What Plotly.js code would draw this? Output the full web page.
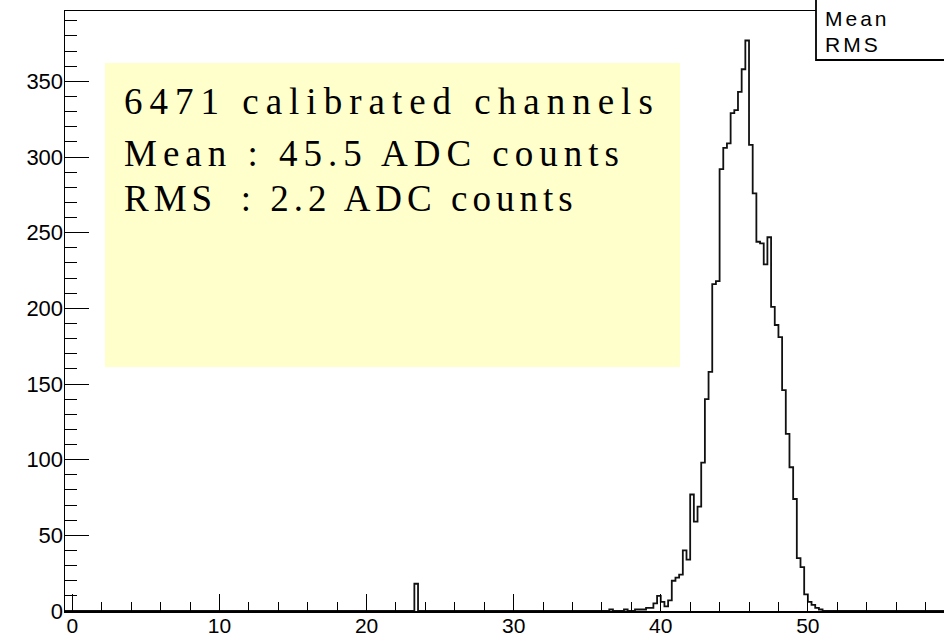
<!DOCTYPE html>
<html>
<head>
<meta charset="utf-8">
<script src="https://cdn.plot.ly/plotly-3.0.1.min.js"></script>
<style>
html,body{margin:0;padding:0;background:#ffffff;}
#chart{width:944px;height:641px;}
</style>
</head>
<body>
<div id="chart"></div>
<script>
// ---------------- data ----------------
const binWidth = 0.25;            // ADC counts per bin
const histMin = -0.5;
const histMax = 64.0;
const binLowEdges = [
  23.25,
  36.5, 36.75, 37.0, 37.25, 37.5, 37.75, 38.0, 38.25, 38.5, 38.75,
  39.0, 39.25, 39.5, 39.75, 40.0, 40.25, 40.5, 40.75, 41.0, 41.25,
  41.5, 41.75, 42.0, 42.25, 42.5, 42.75, 43.0, 43.25, 43.5, 43.75,
  44.0, 44.25, 44.5, 44.75, 45.0, 45.25, 45.5, 45.75, 46.0, 46.25,
  46.5, 46.75, 47.0, 47.25, 47.5, 47.75, 48.0, 48.25, 48.5, 48.75,
  49.0, 49.25, 49.5, 49.75, 50.0, 50.25, 50.5, 50.75
];
const binCounts = [
  18,
  1, 0, 0, 0, 1, 0, 0, 1, 1, 1,
  2, 2, 5, 10, 6, 3, 7, 20, 22, 24,
  40, 34, 77, 59, 69, 98, 140, 158, 216, 218,
  292, 306, 309, 329, 331, 343, 358, 377, 308, 276,
  244, 243, 229, 247, 201, 189, 181, 146, 117, 95,
  74, 35, 29, 11, 6, 4, 2, 1
];
const xTickValues = [0, 10, 20, 30, 40, 50];
const yTickValues = [0, 50, 100, 150, 200, 250, 300, 350];
const infoLines = [
  "6471 calibrated channels",
  "Mean : 45.5 ADC counts",
  "RMS&#8194;: 2.2 ADC counts"
];
const statsLabels = ["Mean", "RMS"];

// ---------------- build step outline ----------------
const nBins = Math.round((histMax - histMin) / binWidth);
const lookup = {};
binLowEdges.forEach((e, i) => { lookup[Math.round((e - histMin) / binWidth)] = binCounts[i]; });
const stepX = [], stepY = [];
for (let k = 0; k < nBins; k++) {
  stepX.push(histMin + k * binWidth);
  stepY.push(lookup[k] || 0);
}
stepX.push(histMax); stepY.push(0);

// ---------------- layout helpers ----------------
const L = 65, T = 11, W = 944 - 65, H = 600;
const px = x => (x - L) / W;
const py = y => (T + H - y) / H;

const trace = {
  type: 'scatter', mode: 'lines',
  x: stepX, y: stepY,
  line: {shape: 'hv', color: '#111111', width: 1.8},
  hoverinfo: 'skip', showlegend: false
};

const annotations = [];
const lineY = [101, 154, 198];
const lineSpacing = ['7px', '6px', '5px'];
infoLines.forEach((t, i) => annotations.push({
  xref: 'paper', yref: 'paper', x: px(122), y: py(lineY[i]),
  xanchor: 'left', yanchor: 'middle', align: 'left', showarrow: false,
  text: t, font: {family: 'Liberation Serif, Times New Roman, serif', size: 37, color: '#000000'}
}));
const statY = [19, 44];
statsLabels.forEach((t, i) => annotations.push({
  xref: 'paper', yref: 'paper', x: px(823), y: py(statY[i]),
  xanchor: 'left', yanchor: 'middle', align: 'left', showarrow: false,
  text: t, font: {family: 'Liberation Sans, Arial, sans-serif', size: 21, color: '#000000'}
}));

const layout = {
  width: 944, height: 641,
  margin: {l: L, r: 0, t: T, b: 641 - T - H, pad: 0},
  paper_bgcolor: '#ffffff', plot_bgcolor: '#ffffff',
  showlegend: false,
  xaxis: {
    range: [histMin, histMin + W / 14.71],
    tickvals: xTickValues, ticktext: xTickValues.map(String),
    ticks: 'inside', ticklen: 17, tickwidth: 1, tickcolor: '#000000',
    minor: {ticks: 'inside', ticklen: 9, dtick: 2, tick0: 0, tickwidth: 1, tickcolor: '#000000', showgrid: false},
    showline: true, linecolor: '#000000', linewidth: 1.5, mirror: true,
    showgrid: false, zeroline: false,
    ticklabelstandoff: -5,
    tickfont: {family: 'Liberation Sans, Arial, sans-serif', size: 21, color: '#000000'}
  },
  yaxis: {
    range: [0, 396.5],
    tickvals: yTickValues, ticktext: yTickValues.map(String),
    ticks: 'inside', ticklen: 24, tickwidth: 1, tickcolor: '#000000',
    minor: {ticks: 'inside', ticklen: 12, dtick: 10, tick0: 0, tickwidth: 1, tickcolor: '#000000', showgrid: false},
    showline: true, linecolor: '#000000', linewidth: 1.5, mirror: false,
    showgrid: false, zeroline: false,
    ticklabelstandoff: -4,
    tickfont: {family: 'Liberation Sans, Arial, sans-serif', size: 22, color: '#000000'}
  },
  shapes: [
    {type: 'rect', xref: 'paper', yref: 'paper', layer: 'below',
     x0: px(105), x1: px(680), y0: py(367), y1: py(63),
     fillcolor: 'rgb(255,255,204)', line: {width: 0}},
    {type: 'rect', xref: 'paper', yref: 'paper', layer: 'above',
     x0: px(816), x1: px(990), y0: py(60), y1: py(-40),
     fillcolor: '#ffffff', line: {color: '#000000', width: 1.8}}
  ],
  annotations: annotations
};

Plotly.newPlot('chart', [trace], layout, {displayModeBar: false, staticPlot: true}).then(() => {
  document.querySelectorAll('#chart g.annotation').forEach(g => {
    const idx = +g.getAttribute('data-index');
    const txt = g.querySelector('text.annotation-text');
    if (!txt) return;
    txt.style.letterSpacing = idx < infoLines.length ? lineSpacing[idx] : '3px';
  });
});
</script>
</body>
</html>
